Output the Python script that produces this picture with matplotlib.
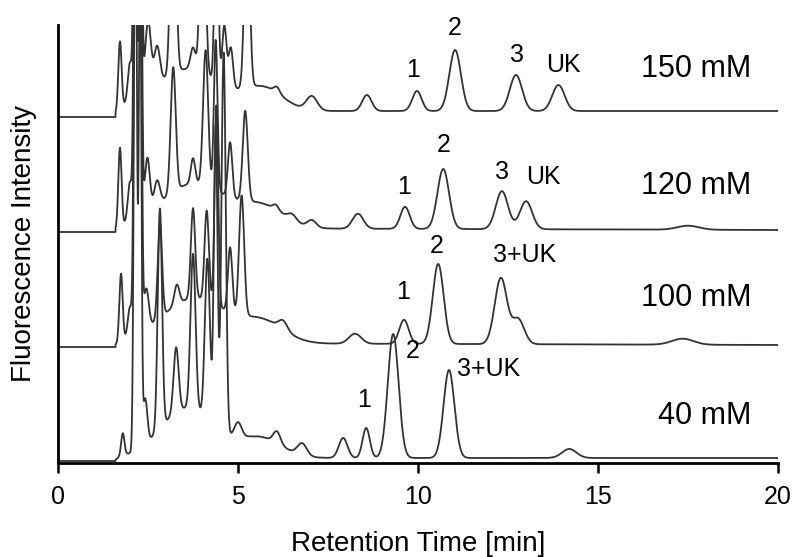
import numpy as np
import matplotlib.pyplot as plt

plt.rcParams['font.family'] = ['Liberation Sans', 'DejaVu Sans']

# retention time axis [min]
t = np.linspace(0, 20, 4001)

# peak tables: retention time, height, width (sigma)
# heights in arbitrary intensity units; the wide entries are the raised background
rt_150 = [1.72, 2.0, 2.15, 2.28, 2.5, 2.75, 3.2, 3.75, 4.02, 4.4, 4.62, 4.8, 5.25, 6.08, 7.05, 8.58, 9.97, 11.03, 12.72, 13.9, 3.6, 5.7]
h_150 = [66, 40, 600, 500, 70, 38, 250, 22, 220, 200, 60, 40, 200, 6, 14, 16, 20, 61, 36, 26, 42, 22]
w_150 = [0.045, 0.06, 0.04, 0.04, 0.08, 0.08, 0.07, 0.07, 0.07, 0.05, 0.06, 0.06, 0.07, 0.08, 0.15, 0.13, 0.13, 0.16, 0.17, 0.17, 0.9, 0.55]

rt_120 = [1.72, 2.0, 2.15, 2.28, 2.48, 2.75, 3.2, 3.75, 4.1, 4.38, 4.78, 5.2, 6.05, 6.5, 7.05, 8.33, 9.64, 10.7, 12.33, 13.0, 17.5, 3.8, 5.7]
h_120 = [78, 40, 600, 500, 55, 25, 125, 25, 135, 150, 55, 90, 5, 6, 7, 15, 22, 60, 38, 28, 4, 45, 20]
w_120 = [0.045, 0.06, 0.04, 0.04, 0.07, 0.08, 0.07, 0.06, 0.07, 0.05, 0.06, 0.07, 0.08, 0.12, 0.12, 0.15, 0.13, 0.16, 0.17, 0.17, 0.3, 0.9, 0.6]

rt_100 = [1.75, 2.0, 2.15, 2.28, 2.45, 2.83, 3.3, 3.75, 4.13, 4.4, 4.78, 5.1, 6.25, 8.25, 9.61, 10.56, 12.3, 12.78, 17.35, 3.8, 5.7]
h_100 = [66, 30, 600, 500, 40, 95, 20, 90, 90, 200, 65, 120, 9, 10, 24, 80, 66, 25, 6, 45, 20]
w_100 = [0.045, 0.06, 0.04, 0.04, 0.07, 0.06, 0.07, 0.06, 0.06, 0.05, 0.06, 0.07, 0.12, 0.17, 0.13, 0.15, 0.17, 0.17, 0.3, 0.9, 0.6]

rt_40 = [1.8, 2.15, 2.28, 2.42, 2.83, 3.28, 3.75, 4.15, 4.38, 4.6, 5.0, 6.08, 6.78, 7.92, 8.56, 9.31, 10.86, 14.2, 3.6, 5.6]
h_40 = [22, 600, 500, 45, 220, 65, 155, 160, 300, 380, 15, 12, 12, 20, 30, 124, 88, 9, 50, 20]
w_40 = [0.045, 0.04, 0.035, 0.06, 0.06, 0.07, 0.07, 0.07, 0.05, 0.06, 0.1, 0.1, 0.13, 0.12, 0.1, 0.15, 0.15, 0.2, 0.75, 0.6]

# vertical offset of each trace and baseline rise after the solvent front
offsets = [346, 231, 116, 2]
base_rise = [6, 4, 4, 3]
base_end = [6, 2, 2, 3]
conc = ['150 mM', '120 mM', '100 mM', '40 mM']

peaks = [(rt_150, h_150, w_150), (rt_120, h_120, w_120),
         (rt_100, h_100, w_100), (rt_40, h_40, w_40)]


def trace(rt, h, w, rise, end):
    y = np.zeros_like(t)
    for c, a, s in zip(rt, h, w):
        y += a * np.exp(-0.5 * ((t - c) / s) ** 2)
    y[t < 1.6] = 0
    y += np.interp(t, [0, 1.6, 1.75, 20], [0, 0, rise, end])
    return y


fig = plt.figure(figsize=(7.98, 5.57), dpi=100)
ax = fig.add_axes([0.0727, 0.1688, 0.9023, 0.7863])

for (rt, h, w), off, r, e in zip(peaks, offsets, base_rise, base_end):
    ax.plot(t, off + trace(rt, h, w, r, e), color='#333333', lw=1.3)

ax.set_xlim(0, 20)
ax.set_ylim(0, 438)
ax.set_xticks([0, 5, 10, 15, 20])
ax.set_yticks([])
ax.tick_params(axis='x', direction='out', length=7, width=1.8, labelsize=18, pad=9)
for s in ['top', 'right']:
    ax.spines[s].set_visible(False)
for s in ['left', 'bottom']:
    ax.spines[s].set_linewidth(2)
ax.set_xlabel('Retention Time [min]', fontsize=20, labelpad=16)
ax.set_ylabel('Fluorescence Intensity', fontsize=20, labelpad=15)

# peak labels
fs = 18
ax.text(9.86, 393, '1', fontsize=fs, ha='center', va='center')
ax.text(11.03, 435, '2', fontsize=fs, ha='center', va='center')
ax.text(12.75, 408, '3', fontsize=fs, ha='center', va='center')
ax.text(14.05, 398, 'UK', fontsize=fs, ha='center', va='center')

ax.text(9.61, 276, '1', fontsize=fs, ha='center', va='center')
ax.text(10.72, 318, '2', fontsize=fs, ha='center', va='center')
ax.text(12.33, 291, '3', fontsize=fs, ha='center', va='center')
ax.text(13.47, 286, 'UK', fontsize=fs, ha='center', va='center')

ax.text(9.58, 171, '1', fontsize=fs, ha='center', va='center')
ax.text(10.53, 217, '2', fontsize=fs, ha='center', va='center')
ax.text(12.97, 208, '3+UK', fontsize=fs, ha='center', va='center')

ax.text(8.5, 63, '1', fontsize=fs, ha='center', va='center')
ax.text(9.86, 112, '2', fontsize=fs, ha='center', va='center')
ax.text(11.97, 94, '3+UK', fontsize=fs, ha='center', va='center')

# concentration labels
for lab, yy in zip(conc, [394, 277, 165, 47]):
    ax.text(19.25, yy, lab, fontsize=22, ha='right', va='center')

fig.savefig('out.png', dpi=100)
